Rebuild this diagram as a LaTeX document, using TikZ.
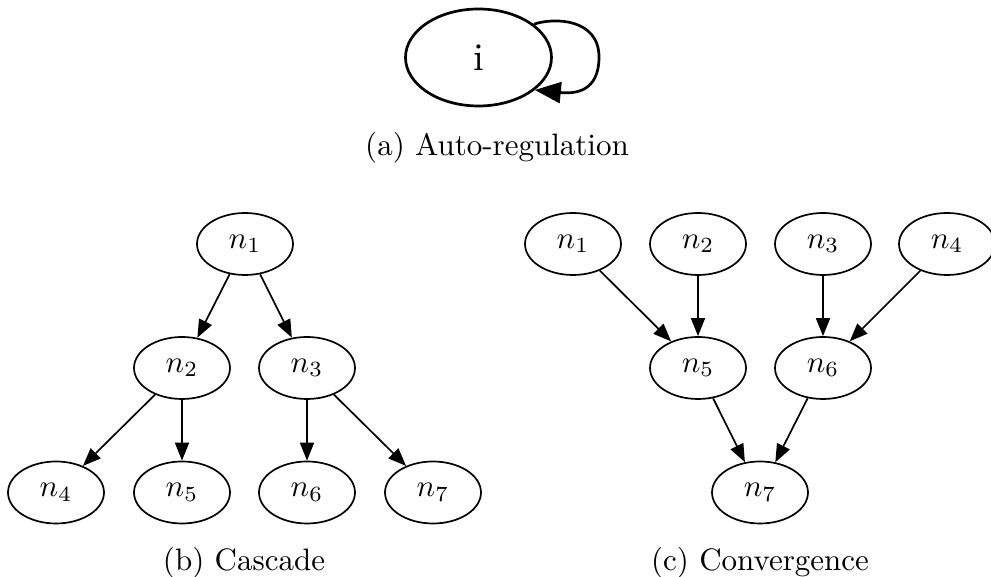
\documentclass[tikz,border=0pt]{standalone}
\usepackage{graphicx}
\usetikzlibrary{shapes.geometric,arrows.meta}
% node and caption labels: 10pt Computer Modern, enlarged
\newcommand{\nlab}[1]{\scalebox{3.1}{$n_{#1}$}}
\newcommand{\caplab}[1]{\scalebox{3.1}{#1}}
\tikzset{
  state/.style={ellipse, draw, line width=1.7pt, minimum width=96pt, minimum height=62pt, inner sep=0pt},
  bigstate/.style={ellipse, draw, line width=2.7pt, minimum width=146pt, minimum height=97pt, inner sep=0pt},
  edge/.style={line width=1.7pt, -{Triangle[length=18pt,width=14pt]}},
  bigedge/.style={line width=2.7pt, -{Triangle[length=26pt,width=21pt]}},
  caption/.style={inner sep=0pt, anchor=base}
}
\begin{document}
\begin{tikzpicture}[x=1pt,y=1pt]
\useasboundingbox (0,0) rectangle (991,577);

% (a) self-regulating node
\node[bigstate] (i) at (478.5,519.5) {\scalebox{3.9}{i}};
\draw[bigedge] (i.31) .. controls (555,560) and (599,558) .. (599,520)
  .. controls (599,485) and (575,483) .. (i.-30);
\node[caption] (capa) at (497,421) {\caplab{(a) Auto-regulation}};

% (b) cascade tree
\node[state] (b1) at (245,333) {\nlab{1}};
\node[state] (b2) at (182,209) {\nlab{2}};
\node[state] (b3) at (307,209) {\nlab{3}};
\node[state] (b4) at (56,84.5) {\nlab{4}};
\node[state] (b5) at (182,84.5) {\nlab{5}};
\node[state] (b6) at (307,84.5) {\nlab{6}};
\node[state] (b7) at (433,84.5) {\nlab{7}};
\draw[edge] (b1) -- (b2);
\draw[edge] (b1) -- (b3);
\draw[edge] (b2) -- (b4);
\draw[edge] (b2) -- (b5);
\draw[edge] (b3) -- (b6);
\draw[edge] (b3) -- (b7);
\node[caption] (capb) at (244,6) {\caplab{(b) Cascade}};

% (c) convergence
\node[state] (c1) at (573,333) {\nlab{1}};
\node[state] (c2) at (698,333) {\nlab{2}};
\node[state] (c3) at (823,333) {\nlab{3}};
\node[state] (c4) at (947,333) {\nlab{4}};
\node[state] (c5) at (698,209) {\nlab{5}};
\node[state] (c6) at (823,209) {\nlab{6}};
\node[state] (c7) at (760,84.5) {\nlab{7}};
\draw[edge] (c1) -- (c5);
\draw[edge] (c2) -- (c5);
\draw[edge] (c3) -- (c6);
\draw[edge] (c4) -- (c6);
\draw[edge] (c5) -- (c7);
\draw[edge] (c6) -- (c7);
\node[caption] (capc) at (760,6) {\caplab{(c) Convergence}};
\end{tikzpicture}
\end{document}
